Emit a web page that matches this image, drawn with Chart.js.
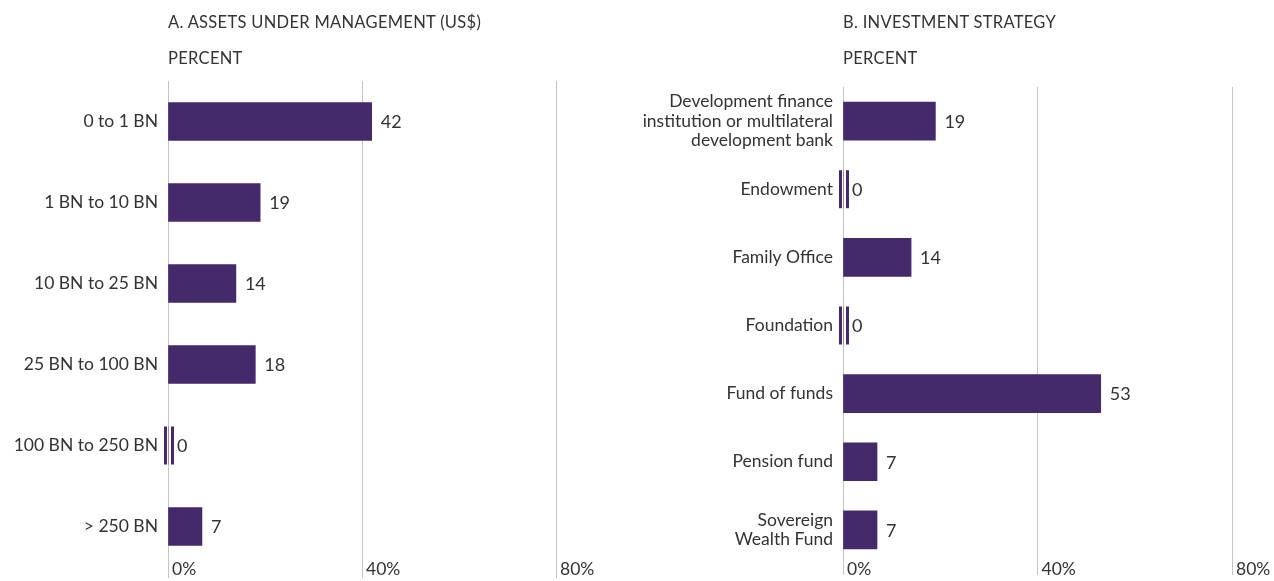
<!DOCTYPE html>
<html>
<head>
<meta charset="utf-8">
<script src="https://cdn.jsdelivr.net/npm/chart.js@4.4.0/dist/chart.umd.min.js"></script>
<style>
  html, body { margin: 0; padding: 0; background: #fff; }
  body { width: 1274px; height: 581px; position: relative; overflow: hidden; font-family: Lato, "Open Sans", sans-serif; color: #333; }
  .panel { position: absolute; top: 0; width: 637px; height: 581px; }
  .panel canvas { position: absolute; left: 0; top: 0; }
  .title { position: absolute; font-size: 16.5px; letter-spacing: 0.3px; white-space: nowrap; }
</style>
</head>
<body>

<div class="panel" style="left:0">
  <canvas id="aumChart" width="637" height="581"></canvas>
  <div class="title" style="left:168px;top:12px">A. ASSETS UNDER MANAGEMENT (US$)</div>
  <div class="title" style="left:168px;top:48px">PERCENT</div>
</div>

<div class="panel" style="left:637px">
  <canvas id="strategyChart" width="637" height="581"></canvas>
  <div class="title" style="left:206px;top:12px">B. INVESTMENT STRATEGY</div>
  <div class="title" style="left:206px;top:48px">PERCENT</div>
</div>

<script>
// ---- data ----
const AUM_LABELS = ['0 to 1 BN', '1 BN to 10 BN', '10 BN to 25 BN', '25 BN to 100 BN', '100 BN to 250 BN', '> 250 BN'];
const AUM_VALUES = [42, 19, 14, 18, 0, 7];

const STRATEGY_LABELS = [
    ['Development finance', 'institution or multilateral', 'development bank'],
    'Endowment',
    'Family Office',
    'Foundation',
    'Fund of funds',
    'Pension fund',
    ['Sovereign', 'Wealth Fund'],
];
const STRATEGY_VALUES = [19, 0, 14, 0, 53, 7, 7];

const X_TICKS = [0, 40, 80];

const BAR_COLOR = '#44296b';
const TEXT_COLOR = '#333333';
const GRID_COLOR = '#c4c4c4';
const FONT_FAMILY = 'Lato, "Open Sans", sans-serif';
const TICK_FONT = { family: FONT_FAMILY, size: 17.5 };
const CATEGORY_FONT = { family: FONT_FAMILY, size: 17.5, lineHeight: 1.1 };
const VALUE_FONT_SIZE = 18;

// value labels at bar ends + little twin marks for zero bars
const barValuePlugin = {
    id: 'barValues',
    afterDatasetsDraw(chart) {
        const ctx = chart.ctx;
        const meta = chart.getDatasetMeta(0);
        const values = chart.data.datasets[0].data;
        ctx.save();
        ctx.font = `${VALUE_FONT_SIZE}px ${FONT_FAMILY}`;
        ctx.textBaseline = 'middle';
        ctx.textAlign = 'left';
        meta.data.forEach((bar, i) => {
            const { x, y, height } = bar.getProps(['x', 'y', 'height'], true);
            if (values[i] === 0) {
                ctx.fillStyle = BAR_COLOR;
                ctx.fillRect(x - 4, y - height / 2, 3, height);
                ctx.fillRect(x + 3, y - height / 2, 3, height);
            }
            ctx.fillStyle = TEXT_COLOR;
            ctx.fillText(String(values[i]), x + 9, y + 1);
        });
        ctx.restore();
    }
};

function makeChart(id, labels, values, box) {
    return new Chart(document.getElementById(id), {
        type: 'bar',
        data: {
            labels: labels,
            datasets: [{
                data: values,
                backgroundColor: BAR_COLOR,
                borderWidth: 0,
                barThickness: 38,
            }]
        },
        options: {
            indexAxis: 'y',
            responsive: false,
            animation: false,
            layout: { padding: { top: box.top, right: box.right, bottom: 0, left: 0 } },
            plugins: { legend: { display: false }, tooltip: { enabled: false } },
            scales: {
                x: {
                    min: 0, max: 80,
                    afterBuildTicks: s => { s.ticks = X_TICKS.map(v => ({ value: v })); },
                    afterFit: s => {
                        s.height = box.axisHeight;
                        s.paddingLeft = 0;
                        s.paddingRight = 0;
                    },
                    border: { display: false },
                    grid: { color: GRID_COLOR, lineWidth: 1, tickLength: 11, drawTicks: true },
                    // mirrored so the labels are not clipped to the short axis box
                    ticks: {
                        mirror: true,
                        align: 'start',
                        labelOffset: 4,
                        padding: -(box.axisHeight - 1.5),
                        color: TEXT_COLOR,
                        font: TICK_FONT,
                        callback: v => v + '%',
                    }
                },
                y: {
                    afterFit: s => {
                        s.width = box.left;
                        s.paddingTop = 0;
                        s.paddingBottom = 0;
                    },
                    border: { display: false },
                    grid: { display: false, drawTicks: false },
                    ticks: { padding: 10, color: TEXT_COLOR, font: CATEGORY_FONT }
                }
            }
        },
        plugins: [barValuePlugin]
    });
}

makeChart('aumChart', AUM_LABELS, AUM_VALUES, { left: 168, top: 81, right: 81, axisHeight: 14 });
makeChart('strategyChart', STRATEGY_LABELS, STRATEGY_VALUES, { left: 206, top: 87, right: 42, axisHeight: 17 });
</script>
</body>
</html>
